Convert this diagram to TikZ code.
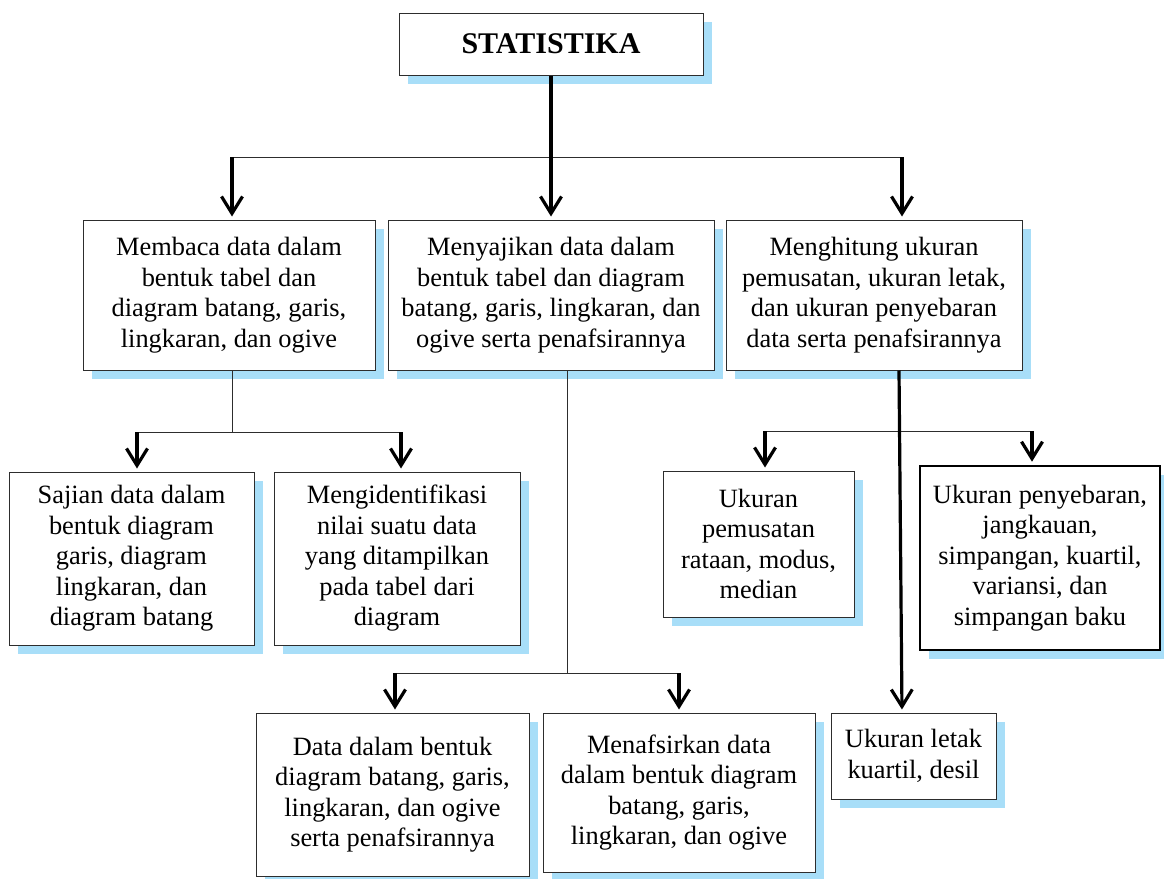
\documentclass[tikz,border=0pt]{standalone}
\usepackage{fontspec}
\setmainfont{Liberation Serif}
\usetikzlibrary{arrows.meta,shadows}
\definecolor{shadowblue}{RGB}{168,222,248}
\definecolor{edgegray}{RGB}{45,45,45}
\tikzset{
  box/.style={draw=edgegray, line width=1pt, fill=white, rectangle, inner sep=0pt,
    align=center, font=\fontsize{26.4}{30.5}\selectfont,
    general shadow={fill=shadowblue, shadow xshift=8.5pt, shadow yshift=-8.5pt}},
  boldbox/.style={box, draw=black, line width=2.6pt},
  bar/.style={draw=edgegray, line width=1pt},
  arr/.style={draw=black, line width=3.2pt, shorten >=3pt,
    -{Straight Barb[length=17pt,width=21pt]}},
}
\begin{document}
\begin{tikzpicture}[x=1pt,y=-1pt]
\useasboundingbox (0,0) rectangle (1164,878);
% nodes
\node[box, minimum width=304pt, minimum height=62pt, font=\fontsize{30}{34}\selectfont\bfseries] (stat) at (551,44) {STATISTIKA};
\node[box, minimum width=292pt, minimum height=150pt] (A) at (229,295)
  {Membaca data dalam\\bentuk tabel dan\\diagram batang, garis,\\lingkaran, dan ogive};
\node[box, minimum width=326pt, minimum height=150pt] (B) at (551,295)
  {Menyajikan data dalam\\bentuk tabel dan diagram\\batang, garis, lingkaran, dan\\ogive serta penafsirannya};
\node[box, minimum width=296pt, minimum height=150pt] (C) at (874,295)
  {Menghitung ukuran\\pemusatan, ukuran letak,\\dan ukuran penyebaran\\data serta penafsirannya};
\node[box, minimum width=245pt, minimum height=173pt] (D) at (131.5,558.5)
  {Sajian data dalam\\bentuk diagram\\garis, diagram\\lingkaran, dan\\diagram batang};
\node[box, minimum width=246pt, minimum height=173pt] (E) at (397,558.5)
  {Mengidentifikasi\\nilai suatu data\\yang ditampilkan\\pada tabel dari\\diagram};
\node[box, minimum width=273pt, minimum height=163pt] (F) at (392.5,794.5)
  {Data dalam bentuk\\diagram batang, garis,\\lingkaran, dan ogive\\serta penafsirannya};
\node[box, minimum width=272pt, minimum height=159pt] (G) at (679,792.5)
  {Menafsirkan data\\dalam bentuk diagram\\batang, garis,\\lingkaran, dan ogive};
\node[box, minimum width=191pt, minimum height=146pt] (J) at (758.5,544)
  {Ukuran\\pemusatan\\rataan, modus,\\median};
\node[boldbox, minimum width=240pt, minimum height=184pt] (I) at (1040,558)
  {Ukuran penyebaran,\\jangkauan,\\simpangan, kuartil,\\variansi, dan\\simpangan baku};
\node[box, minimum width=165pt, minimum height=86pt] (H) at (913.5,756)
  {Ukuran letak\\kuartil, desil};
% top level connectors
\coordinate (t1) at (232,157);
\coordinate (t2) at (902,157);
\draw[bar] (t1) -- (t2);
\draw[arr] (stat.south) -- (B.north);
\draw[arr] (t1) -- (t1 |- A.north);
\draw[arr] (t2) -- (t2 |- C.north);
% left group
\coordinate (l0) at (232,432);
\coordinate (l1) at (137,432);
\coordinate (l2) at (401,432);
\draw[bar] (l0 |- A.south) -- (l0);
\draw[bar] (l1) -- (l2);
\draw[arr] (l1) -- (l1 |- D.north);
\draw[arr] (l2) -- (l2 |- E.north);
% centre group
\coordinate (c0) at (567,673);
\coordinate (c1) at (395,673);
\coordinate (c2) at (679,673);
\draw[bar] (c0 |- B.south) -- (c0);
\draw[bar] (c1) -- (c2);
\draw[arr] (c1) -- (c1 |- F.north);
\draw[arr] (c2) -- (c2 |- G.north);
% right group
\coordinate (r1) at (765,431);
\coordinate (r2) at (1032,431);
\draw[bar] (r1) -- (r2);
\draw[arr] (r1) -- (r1 |- J.north);
\draw[arr] (r2) -- (r2 |- I.north);
\draw[arr] ([xshift=25pt]C.south) -- ([xshift=-11.5pt]H.north);
\end{tikzpicture}
\end{document}
